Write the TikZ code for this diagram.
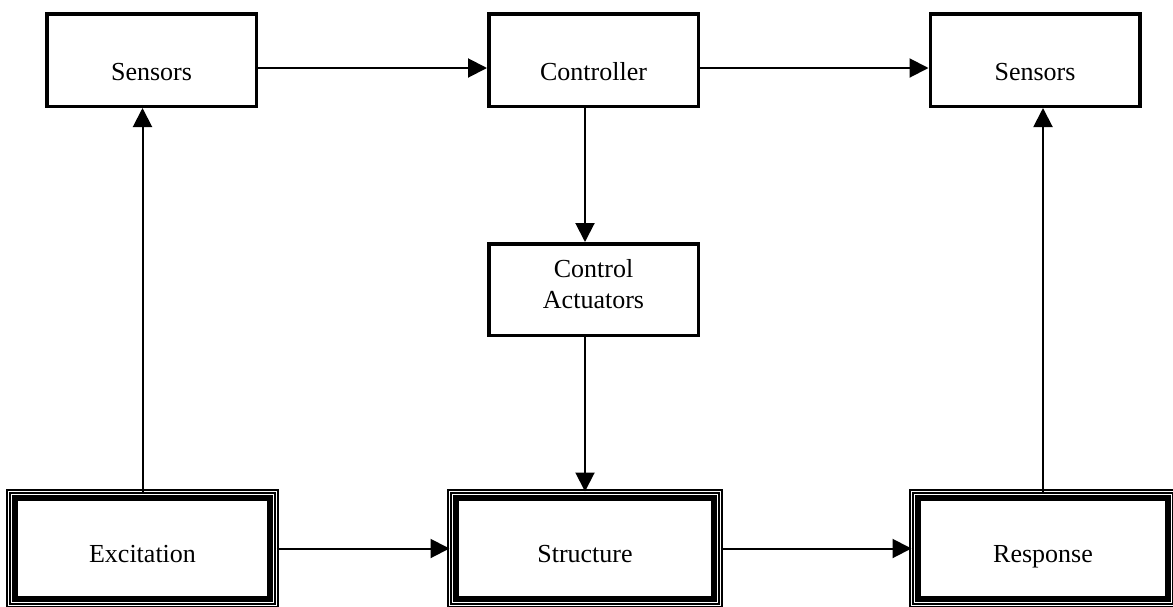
\documentclass[tikz,border=0pt]{standalone}
\usepackage{fontspec}
\setmainfont{Liberation Serif}
\usetikzlibrary{arrows.meta,positioning}
\tikzstyle{block} = [rectangle, draw=black, line width=1.75pt, minimum width=104.75pt, minimum height=46.25pt, text centered, fill=white]
\tikzstyle{upper} = [block, text height=22pt, text depth=2pt]
\tikzstyle{plant} = [rectangle, draw=black, double, double distance=0.9pt, line width=0.65pt, outer sep=0pt, minimum width=134pt, minimum height=57pt, text height=16pt, text depth=2pt, text centered]

\begin{document}
\begin{tikzpicture}[->,>={Triangle[length=9.5pt,width=9.5pt]},line width=1pt,x=0.5pt,y=-0.5pt,font=\fontsize{13pt}{15.5pt}\selectfont]
            \useasboundingbox (0,0) rectangle (1173,606);

            \node[upper] (SensorsIn) at (151.5,60) {Sensors};
            \node[upper] (Controller) at (593.5,60) {Controller};
            \node[upper] (SensorsOut) at (1035,60) {Sensors};
            \node[block,align=center,minimum height=45.75pt,text depth=6pt] (Actuators) at (593.5,289.5) {Control\\Actuators};

            \node[plant] (Excitation) at (142.5,548.5) {Excitation};
            \node[plant,minimum width=135.5pt] (Structure) at (585,548.5) {Structure};
            \node[plant,minimum width=131.5pt] (Response) at (1043,548.5) {Response};

            % heavy inner frame of the plant boxes
            \foreach \n in {Excitation,Structure,Response}
                \draw[-,line width=3pt] ([shift={(3.25pt,-3.25pt)}]\n.north west) rectangle ([shift={(-3.25pt,3.25pt)}]\n.south east);

            \path (Excitation.north) edge (Excitation.north |- SensorsIn.south)
            ([yshift=-4pt]SensorsIn.east) edge ([yshift=-4pt]Controller.west)
            ([yshift=-4pt]Controller.east) edge ([yshift=-4pt]SensorsOut.west)
            (Controller.south -| Structure.north) edge (Actuators.north -| Structure.north)
            (Actuators.south -| Structure.north) edge (Structure.north)
            (Excitation.east) edge (Structure.west)
            (Structure.east) edge (Response.west)
            (Response.north) edge (Response.north |- SensorsOut.south);
        \end{tikzpicture}
\end{document}
